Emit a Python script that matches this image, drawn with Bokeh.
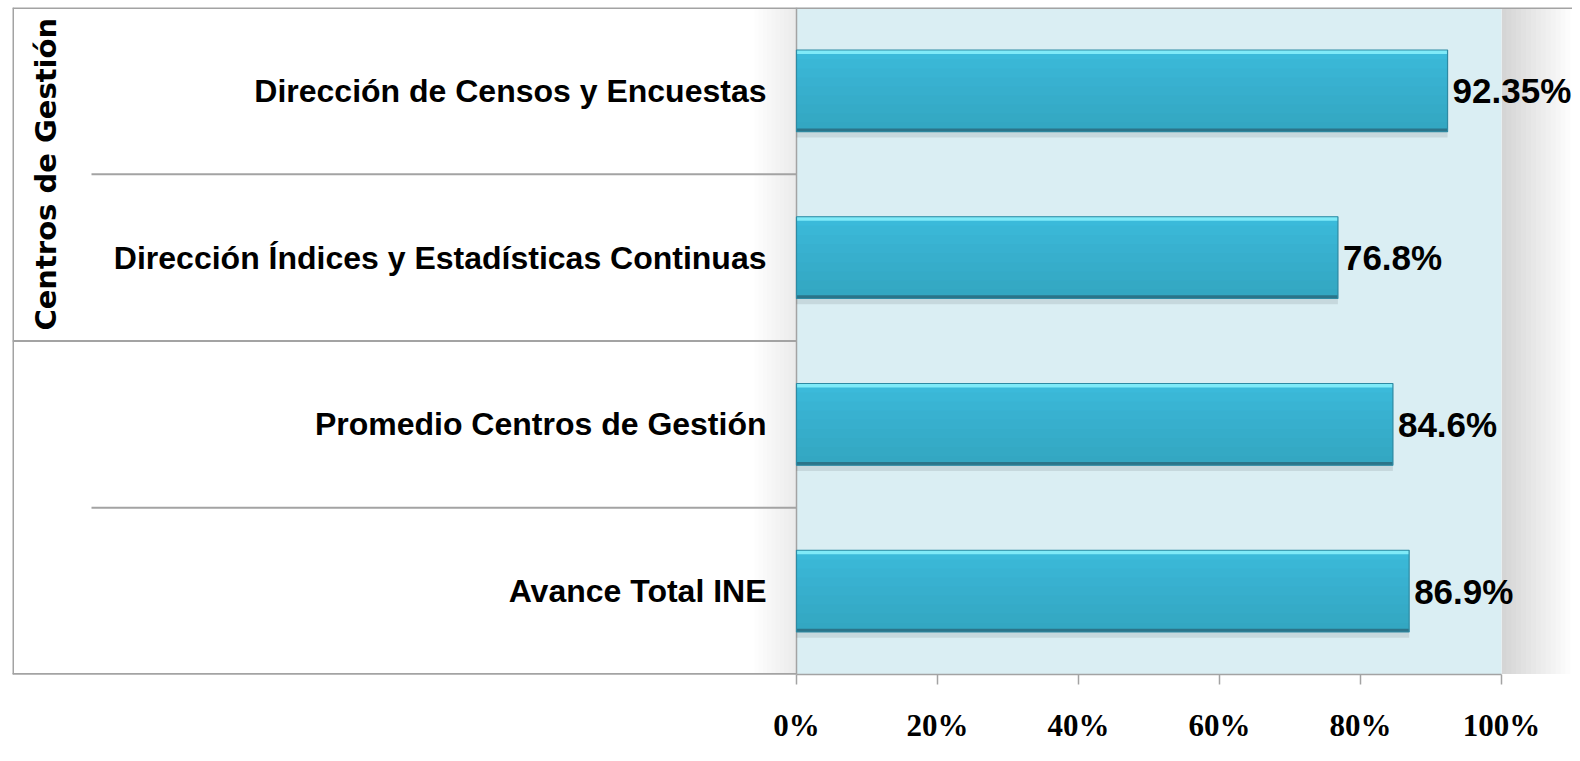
import numpy as np
from bokeh.plotting import figure
from bokeh.models import ColumnDataSource, Range1d, FixedTicker
from bokeh.transform import dodge
from bokeh.core.properties import value
from bokeh.embed import file_html
from bokeh.resources import INLINE

# ---- data ----
categories = [
    "Dirección de Censos y Encuestas",
    "Dirección Índices y Estadísticas Continuas",
    "Promedio Centros de Gestión",
    "Avance Total INE",
]
values = [92.35, 76.8, 84.6, 86.9]
value_labels = ["92.35%", "76.8%", "84.6%", "86.9%"]
tick_values = [0, 20, 40, 60, 80, 100]
tick_labels = ["0%", "20%", "40%", "60%", "80%", "100%"]
group_label = "Centros de Gestión"
group_size = 2  # the group covers the top two categories

# ---- layout ----
n = len(categories)
ypos = [n - 1 - i for i in range(n)]
W, H = 1572, 745
BL, BT, BB = 12, 7, 70
PX = 7.05                      # pixels per percent
XMIN = -(784 / PX)             # frame starts 784 px left of 0%
XMAX = XMIN + (W - BL) / PX
Y0, Y1 = -0.5, n - 0.5
LO, HI = tick_values[0], tick_values[-1]

p = figure(width=W, height=H, output_backend="svg", toolbar_location=None,
           x_range=Range1d(XMIN, XMAX), y_range=Range1d(Y0, Y1),
           y_axis_location=None,
           min_border_left=BL, min_border_right=0, min_border_top=BT,
           min_border_bottom=BB)
p.outline_line_color = None
p.background_fill_color = "white"
p.border_fill_color = "white"
p.xgrid.visible = False
p.ygrid.visible = False

# soft shadows around the plot area
for k in range(14):
    p.quad(left=HI, right=HI + (k + 1) * 0.7, bottom=Y0, top=Y1,
           fill_color="black", fill_alpha=0.011, line_color=None)
for k in range(10):
    p.quad(left=LO - (k + 1) * 0.6, right=LO, bottom=Y0, top=Y1,
           fill_color="black", fill_alpha=0.008, line_color=None)

# plot area background
p.quad(left=LO, right=HI, bottom=Y0, top=Y1, fill_color="#DAEEF3", line_color=None)

# separator lines of the category table
grid_col = "#A3A3A3"
for i in range(n + 1):
    b = Y0 + i
    if i == n:
        x0, x1, lw = XMIN, XMAX, 3
    elif i == 0 or i == n - group_size:
        x0, x1, lw = XMIN, LO, 3 if i == 0 else 2
    else:
        x0, x1, lw = -100.0, LO, 2
    p.segment(x0=x0, y0=b, x1=x1, y1=b, line_color=grid_col, line_width=lw)
p.segment(x0=XMIN, y0=Y0, x1=XMIN, y1=Y1, line_color=grid_col, line_width=3)
p.segment(x0=LO, y0=Y0, x1=LO, y1=Y1, line_color=grid_col, line_width=1.5)

# bars
src = ColumnDataSource(dict(y=ypos, v=values, lab=value_labels, cat=categories))
bh = 0.49
p.hbar(y=dodge("y", -0.035, range=p.y_range), left=LO, right="v", height=bh,
       fill_color="black", fill_alpha=0.09, line_color=None, source=src)
p.hbar(y="y", left=LO, right="v", height=bh, fill_color="#3DBDDE",
       line_color=None, source=src)
steps = 9
for k in range(steps):
    h = bh * (k + 1) / steps
    p.hbar(y=dodge("y", -bh / 2 + h / 2, range=p.y_range), left=LO, right="v",
           height=h, fill_color="#24809E", fill_alpha=0.05, line_color=None, source=src)
p.hbar(y=dodge("y", bh / 2 - 0.012, range=p.y_range), left=LO, right="v", height=0.024,
       fill_color="#7FEAF8", line_color=None, source=src)
p.hbar(y=dodge("y", -bh / 2 + 0.01, range=p.y_range), left=LO, right="v", height=0.02,
       fill_color="#2B7489", line_color=None, source=src)
p.hbar(y="y", left=LO, right="v", height=bh, fill_color=None,
       line_color="#2E8AA3", line_width=1.2, source=src)

# value labels
p.text(x="v", y="y", text="lab", x_offset=5, text_align="left",
       text_baseline="middle", text_font=value("Liberation Sans"),
       text_font_style="bold", text_font_size="35px", text_color="black", source=src)

# category labels
p.text(x=LO, y="y", text="cat", x_offset=-30, text_align="right",
       text_baseline="middle", text_font=value("Liberation Sans"),
       text_font_style="bold", text_font_size="32px", text_color="black", source=src)

# group label
p.text(x=[-106.4], y=[Y1 - group_size / 2], text=[group_label], angle=np.pi / 2,
       text_align="center", text_baseline="middle", text_font=value("DejaVu Sans"),
       text_font_style="bold", text_font_size="29px", text_color="black")

# x axis
ax = p.xaxis[0]
ax.ticker = FixedTicker(ticks=tick_values)
ax.major_label_overrides = {t: l for t, l in zip(tick_values, tick_labels)}
ax.bounds = (LO, HI)
ax.axis_line_color = grid_col
ax.axis_line_width = 1.5
ax.major_tick_line_color = grid_col
ax.major_tick_line_width = 1.5
ax.major_tick_out = 10
ax.major_tick_in = 0
ax.minor_tick_line_color = None
ax.major_label_standoff = 23
ax.major_label_text_font = "Liberation Serif"
ax.major_label_text_font_style = "bold"
ax.major_label_text_font_size = "31px"
ax.major_label_text_color = "black"
p.segment(x0=XMIN, y0=Y0, x1=LO, y1=Y0, line_color=grid_col, line_width=3)

open("out.html", "w").write(file_html(p, INLINE))
